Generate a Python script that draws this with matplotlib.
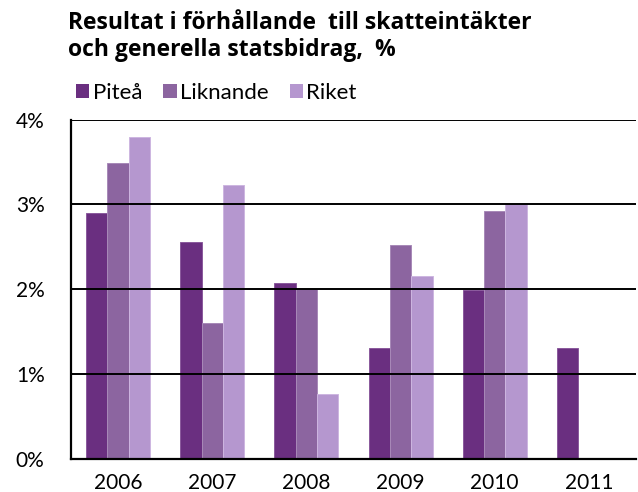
import numpy as np
import matplotlib
matplotlib.use("Agg")
import matplotlib.pyplot as plt
from matplotlib.patches import Patch

# Data (percent)
years = ["2006", "2007", "2008", "2009", "2010", "2011"]
pitea = [2.90, 2.56, 2.07, 1.31, 1.99, 1.31]
liknande = [3.49, 1.60, 2.00, 2.52, 2.92, np.nan]
riket = [3.79, 3.23, 0.77, 2.16, 3.01, np.nan]

series_names = ["Piteå", "Liknande", "Riket"]
series_colors = ["#6a2f80", "#8c65a0", "#b597cf"]
edge_colors = ["#8a5a9c", "#a889b8", "#cdb6e0"]

plt.rcParams["font.family"] = ["Lato", "DejaVu Sans"]

fig = plt.figure(figsize=(6.38, 4.92), dpi=100)
ax = fig.add_axes([71 / 638, 33 / 492, 565 / 638, 339.5 / 492])

index = np.arange(len(years))
bar_width = 0.227
for i, (vals, c, ec) in enumerate(zip([pitea, liknande, riket], series_colors, edge_colors)):
    ax.bar(index + (i - 1) * bar_width, vals, bar_width, color=c,
           edgecolor=ec, linewidth=0.7, zorder=2)

ax.set_xlim(-0.5, len(years) - 0.5)
ax.set_ylim(0, 4)
ax.set_yticks([0, 1, 2, 3, 4])
ax.set_yticklabels(["0%", "1%", "2%", "3%", "4%"])
ax.set_xticks(index)
ax.set_xticklabels(years)
ax.tick_params(axis="y", length=0, pad=19, labelsize=15)
ax.tick_params(axis="x", length=0, pad=10, labelsize=15)

# horizontal gridlines drawn over the bars
for v in [1, 2, 3, 4]:
    ax.axhline(v, color="black", linewidth=1.4, zorder=3)

for side in ["top", "right"]:
    ax.spines[side].set_visible(False)
for side in ["left", "bottom"]:
    ax.spines[side].set_color("black")
    ax.spines[side].set_linewidth(1.6)
    ax.spines[side].set_zorder(4)

fig.text(68 / 638, 1 - 11 / 492,
         "Resultat i förhållande  till skatteintäkter\noch generella statsbidrag,  %",
         fontsize=16.5, fontweight="bold", family=["Open Sans", "DejaVu Sans"],
         ha="left", va="top", linespacing=1.15)

handles = [Patch(facecolor=c, edgecolor="none") for c in series_colors]
fig.legend(handles, series_names, loc="center left",
           bbox_to_anchor=(76 / 638, 1 - 93 / 492), ncol=3, frameon=False,
           fontsize=16, handlelength=0.6, handleheight=0.6,
           handletextpad=0.15, columnspacing=0.95, borderaxespad=0, borderpad=0)

fig.savefig("out.png", dpi=100)
